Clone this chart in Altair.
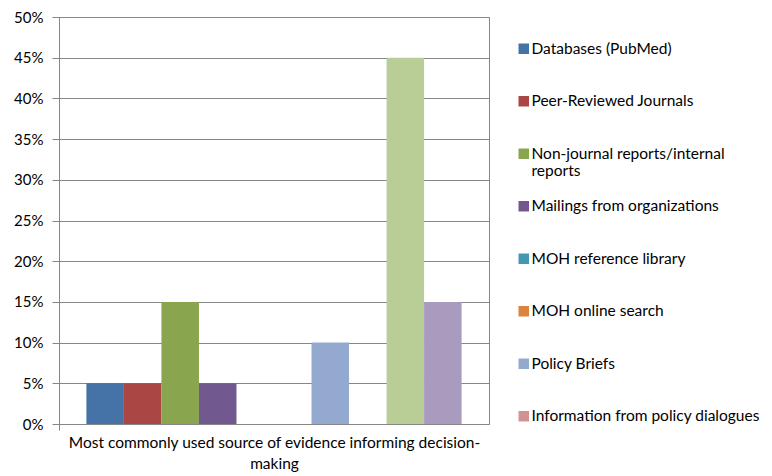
import altair as alt
import pandas as pd

category = ["Most commonly used source of evidence informing decision-making"]
series = [
    "Databases (PubMed)",
    "Peer-Reviewed Journals",
    "Non-journal reports/internal reports",
    "Mailings from organizations",
    "MOH reference library",
    "MOH online search",
    "Policy Briefs",
    "Information from policy dialogues",
    "Series 9",
    "Series 10",
]
values = [0.05, 0.05, 0.15, 0.05, 0.0, 0.0, 0.10, 0.0, 0.45, 0.15]
colors = [
    "#4572A7", "#AA4643", "#89A54E", "#71588F", "#4198AF",
    "#DB843D", "#93A9CF", "#D19392", "#B9CD96", "#A99BBD",
]
legend_series = series[:8]
y_ticks = [0, 0.05, 0.10, 0.15, 0.20, 0.25, 0.30, 0.35, 0.40, 0.45, 0.50]

df = pd.DataFrame({
    "category": category * len(series),
    "series": series,
    "value": values,
})

FONT = "Lato"
GRID = "#868686"

chart = alt.Chart(df).mark_bar().encode(
    x=alt.X(
        "category:N",
        scale=alt.Scale(paddingInner=0, paddingOuter=0),
        axis=alt.Axis(
            labels=False,
            title=["Most commonly used source of evidence informing decision-", "making"],
            titleFontSize=15.5,
            titleFontWeight="normal",
            titleColor="black",
            titleFont=FONT,
            titleLineHeight=21,
            titlePadding=5,
            domainColor=GRID,
            tickColor=GRID,
            tickSize=6,
            bandPosition=0,
        ),
    ),
    xOffset=alt.XOffset(
        "series:N",
        sort=series,
        scale=alt.Scale(domain=series, paddingInner=0, paddingOuter=0.73),
    ),
    y=alt.Y(
        "value:Q",
        scale=alt.Scale(domain=[0, 0.5]),
        axis=alt.Axis(
            values=y_ticks,
            format=".0%",
            title=None,
            labelFont=FONT,
            labelFontSize=15,
            labelColor="black",
            labelPadding=9,
            tickSize=7,
            tickColor=GRID,
            domainColor=GRID,
            gridColor=GRID,
            gridOpacity=1,
        ),
    ),
    color=alt.Color(
        "series:N",
        sort=series,
        scale=alt.Scale(domain=series, range=colors),
        legend=alt.Legend(
            values=legend_series,
            title=None,
            orient="none",
            legendX=457,
            legendY=24,
            symbolType="square",
            symbolSize=110,
            symbolStrokeWidth=0,
            symbolOpacity=1,
            labelFont=FONT,
            labelFontSize=15.5,
            labelColor="black",
            labelLimit=300,
            labelOffset=0,
            rowPadding=18.5,
            labelExpr="datum.label == 'Non-journal reports/internal reports' ? ['Non-journal reports/internal', 'reports'] : [datum.label, '']",
        ),
    ),
).properties(
    width=430,
    height=407,
    padding={"top": 2, "left": 5, "right": 0, "bottom": 0},
).configure(
    font=FONT,
).configure_view(
    stroke=GRID,
).configure_axis(
    grid=True,
)

chart.save("out.html", embed_options={"renderer": "svg", "actions": False})
